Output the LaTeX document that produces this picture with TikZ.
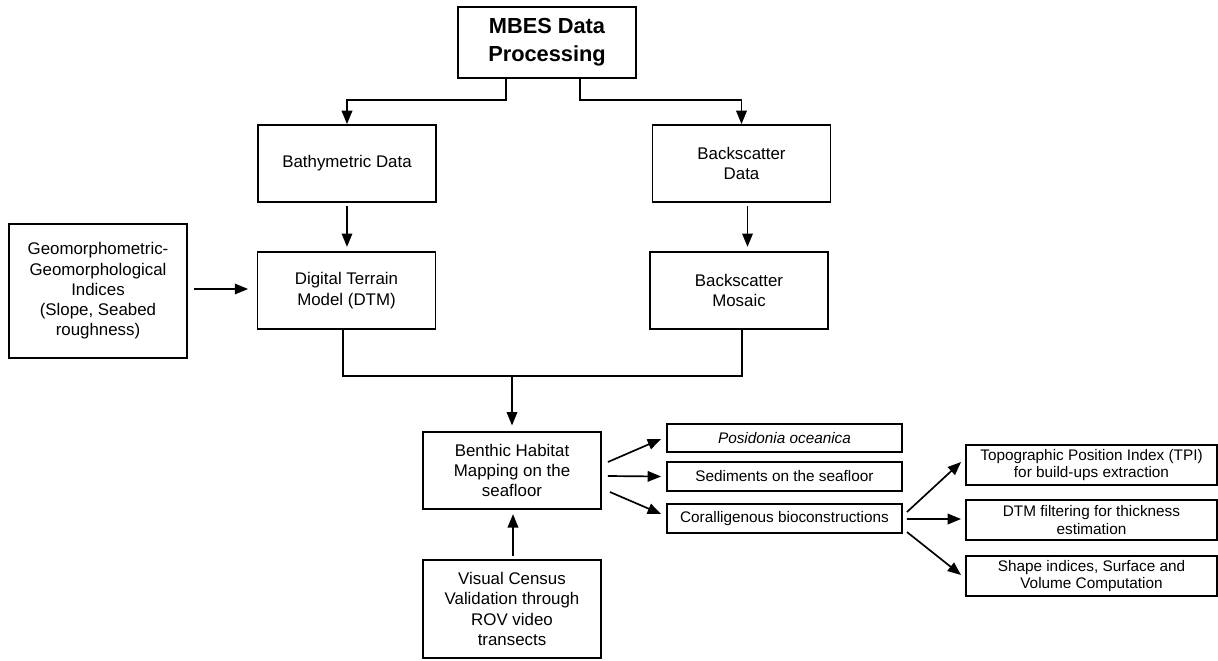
\documentclass[tikz,border=0pt]{standalone}
\usepackage{fontspec}
\setmainfont{Liberation Sans}
\usetikzlibrary{arrows.meta,calc}

\tikzset{
  box/.style={draw, line width=1.3pt, align=center, inner sep=2pt,
    minimum width=4.45cm, minimum height=1.925cm,
    font=\fontsize{12}{14.4}\selectfont},
  topbox/.style={box, minimum height=1.775cm,
    font=\fontsize{15.5}{20}\selectfont\bfseries},
  classbox/.style={box, minimum width=5.875cm, minimum height=0.72cm,
    font=\fontsize{10.9}{12.3}\selectfont},
  methodbox/.style={box, minimum width=6.275cm, minimum height=1cm,
    font=\fontsize{10.9}{12.3}\selectfont},
  arr/.style={-{Triangle[length=9.5pt,width=7.5pt]}, line width=1.2pt},
  link/.style={line width=1.2pt}
}

\begin{document}
\begin{tikzpicture}[x=0.025cm, y=-0.025cm]

\useasboundingbox (0,0) rectangle (1218,660);

% Boxes
\node[topbox]  (mbes)    at (547,42.5)  {MBES Data\\Processing};
\node[box]     (bathy)   at (347,163.5) {Bathymetric Data};
\node[box]     (bsdata)  at (741.5,163.5) {Backscatter\\Data};
\node[box]     (dtm)     at (346.5,290.5) {Digital Terrain\\Model (DTM)};
\node[box]     (mosaic)  at (739,290.5) {Backscatter\\Mosaic};
\node[box, minimum height=3.35cm] (geo) at (98,291)
  {Geomorphometric-\\Geomorphological\\Indices\\(Slope, Seabed\\roughness)};
\node[box]     (benthic) at (512,470.5) {Benthic Habitat\\Mapping on the\\seafloor};
\node[box, minimum height=2.45cm] (census) at (512,609)
  {Visual Census\\Validation through\\ROV video\\transects};

% Habitat classes
\node[classbox] (posid) at (784.5,438)   {\itshape Posidonia oceanica};
\node[classbox] (sed)   at (784.5,476.5) {Sediments on the seafloor};
\node[classbox] (coral) at (784.5,518.5) {Coralligenous bioconstructions};

% Analyses of the bioconstructions
\node[methodbox] (tpi)   at (1091.5,465) {Topographic Position Index (TPI)\\for build-ups extraction};
\node[methodbox] (dtmf)  at (1091.5,520) {DTM filtering for thickness\\estimation};
\node[methodbox] (shape) at (1091.5,576) {Shape indices, Surface and\\Volume Computation};

% Connectors
\draw[arr] ($(mbes.south)+(-41,0)$) -- ++(0,21) -| (bathy.north);
\draw[arr] ($(mbes.south)+(33,0)$) -- ++(0,21) -| (bsdata.north);
\draw[arr, shorten <=2pt, shorten >=3pt] (bathy.south) -- (bathy.south |- dtm.north);
\coordinate (bsout) at ($(bsdata.south)+(6,0)$);
\draw[arr, shorten <=2pt, shorten >=3pt] (bsout) -- (bsout |- mosaic.north);
\draw[arr, shorten <=4pt, shorten >=6pt] (geo.east |- 0,289) -- (dtm.west |- 0,289);

\coordinate (join) at (512,376);
\draw[link] ($(dtm.south)+(-3.5,0)$) |- (join) -| ($(mosaic.south)+(3,0)$);
\draw[arr, shorten >=4pt] (join) -- (benthic.north);
\draw[arr, shorten <=2pt, shorten >=3pt] ($(census.north)+(1,0)$) -- ($(benthic.south)+(1,0)$);

\draw[arr] ($(benthic.east)+(6,-8.5)$) -- ($(posid.west)+(-5,1)$);
\draw[arr] ($(benthic.east)+(6,5.5)$)  -- ($(sed.west)+(-5,0)$);
\draw[arr] ($(benthic.east)+(8,21.5)$) -- ($(coral.west)+(-5,-4.5)$);

\draw[arr] ($(coral.east)+(4,-6.5)$) -- ($(tpi.west)+(-4,-3)$);
\draw[arr] ($(coral.east)+(4,0.5)$)  -- ($(dtmf.west)+(-4,-1)$);
\draw[arr] ($(coral.east)+(4,13.5)$) -- ($(shape.west)+(-4,-1)$);

\end{tikzpicture}
\end{document}
